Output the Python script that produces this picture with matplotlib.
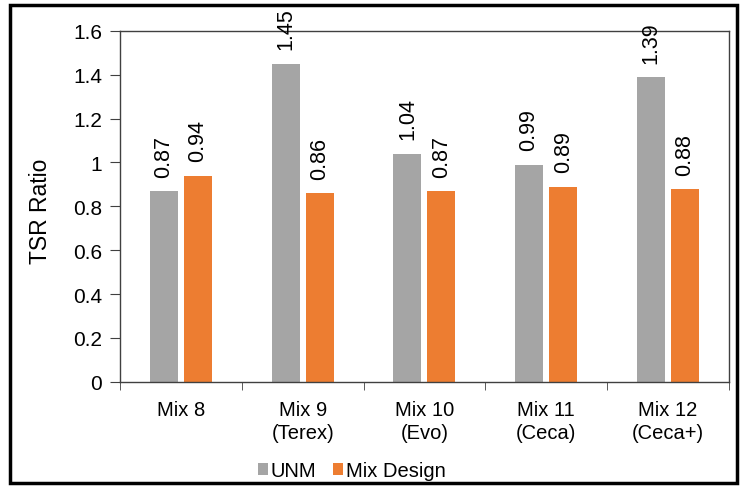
import numpy as np
import matplotlib.pyplot as plt
from matplotlib.patches import Rectangle

plt.rcParams['font.family'] = ['Liberation Sans', 'DejaVu Sans']

# Datos
mezclas = ['Mix 8', 'Mix 9\n(Terex)', 'Mix 10\n(Evo)', 'Mix 11\n(Ceca)', 'Mix 12\n(Ceca+)']
unm = [0.87, 1.45, 1.04, 0.99, 1.39]
mix_design = [0.94, 0.86, 0.87, 0.89, 0.88]

fig = plt.figure(figsize=(7.42, 4.89), dpi=100)
ax = fig.add_axes([0.162, 0.217, 0.82, 0.718])

x = np.arange(len(mezclas))
w = 0.23
b1 = ax.bar(x - 0.14, unm, w, color='#A5A5A5', label='UNM')
b2 = ax.bar(x + 0.14, mix_design, w, color='#ED7D31', label='Mix Design')

for barras, vals in ((b1, unm), (b2, mix_design)):
    for b, v in zip(barras, vals):
        ax.text(b.get_x() + b.get_width() / 2, v + 0.065, '%.2f' % v,
                rotation=90, ha='center', va='bottom', fontsize=15.5,
                clip_on=False)

ax.set_xlim(-0.5, len(mezclas) - 0.5)
ax.set_ylim(0, 1.6)
ax.set_yticks(np.arange(0, 1.61, 0.2))
ax.set_yticklabels(['0', '0.2', '0.4', '0.6', '0.8', '1', '1.2', '1.4', '1.6'])
ax.set_xticks(x)
ax.set_xticklabels(mezclas, linespacing=1.3)
ax.set_xticks(np.arange(-0.5, len(mezclas)), minor=True)
ax.tick_params(axis='x', which='major', length=0, labelsize=14.5, pad=13)
ax.tick_params(axis='x', which='minor', length=6, color='#404040')
ax.tick_params(axis='y', labelsize=15, length=7, color='#404040', pad=6)
ax.set_ylabel('TSR Ratio', fontsize=16.5)
ax.yaxis.set_label_coords(-0.112, 0.49)
for s in ax.spines.values():
    s.set_color('#404040')
    s.set_linewidth(1)

fig.legend(handles=[b1, b2], labels=['UNM', 'Mix Design'], loc='center',
           bbox_to_anchor=(0.474, 0.035), ncol=2, frameon=False, fontsize=14.5,
           handlelength=0.5, handleheight=0.5, handletextpad=0.15, columnspacing=0.8,
           borderpad=0)

# marco exterior
fig.patches.append(Rectangle((10 / 742, 1 - 484 / 489), 727 / 742, 478 / 489,
                             transform=fig.transFigure, fill=False,
                             edgecolor='black', linewidth=2.5))

plt.savefig('out.png', dpi=100)
